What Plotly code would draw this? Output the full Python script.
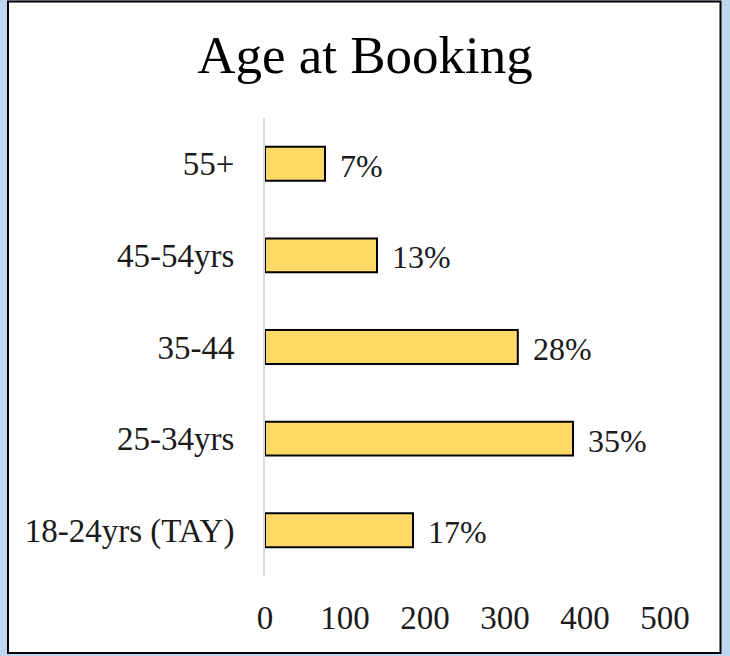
import plotly.graph_objects as go

categories = ["18-24yrs (TAY)", "25-34yrs", "35-44", "45-54yrs", "55+"]
values = [185, 385, 316, 140, 75]
pct_labels = ["17%", "35%", "28%", "13%", "7%"]
x_ticks = [0, 100, 200, 300, 400, 500]

FONT = "Liberation Serif"
TXT = "#1a1a1a"

fig = go.Figure()
fig.add_trace(go.Bar(
    x=values, y=categories, orientation="h",
    marker=dict(color="#FFD966", line=dict(color="black", width=2)),
    hoverinfo="skip",
))

for v, c, t in zip(values, categories, pct_labels):
    fig.add_annotation(x=v, y=c, text=t, showarrow=False, xanchor="left",
                       xshift=13, yshift=-2, font=dict(family=FONT, size=32, color=TXT))

L, R, T, B = 265, 65, 118, 80
W, H = 730, 656
pw, ph = W - L - R, H - T - B

def px(p):
    return (p - L) / pw

def py(q):
    return (H - B - q) / ph

fig.add_shape(type="rect", xref="paper", yref="paper",
              x0=px(8), x1=px(720.5), y0=py(653), y1=py(1.5),
              fillcolor="white", line=dict(color="black", width=2), layer="below")

fig.update_layout(
    width=W, height=H,
    margin=dict(l=L, r=R, t=T, b=B, autoexpand=False),
    paper_bgcolor="#BDD7EE",
    plot_bgcolor="rgba(0,0,0,0)",
    bargap=0.63,
    showlegend=False,
    title=dict(text="Age at Booking", x=0.5, xanchor="center",
               y=1 - 54 / H, yanchor="middle", yref="container",
               font=dict(family=FONT, size=53, color="black")),
    xaxis=dict(range=[0, 500], tickvals=x_ticks, showgrid=False, zeroline=False,
               showline=False, ticks="", ticklabelstandoff=19,
               tickfont=dict(family=FONT, size=33, color=TXT), fixedrange=True),
    yaxis=dict(showgrid=False, zeroline=False, showline=True, linecolor="#D9D9D9",
               linewidth=2, ticks="", ticklabelstandoff=22,
               tickfont=dict(family=FONT, size=33, color=TXT), fixedrange=True),
)

fig.write_html("out.html", config={"displayModeBar": False},
               post_script="document.body.style.margin='0px';document.body.style.padding='0px';")
